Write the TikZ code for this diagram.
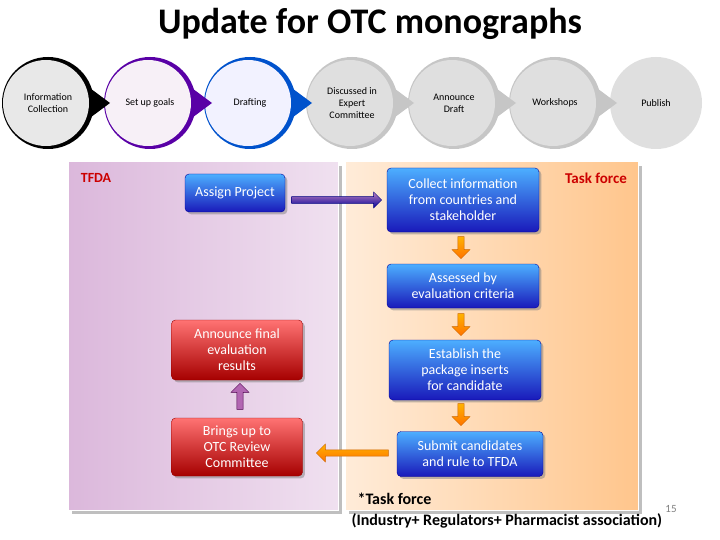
\documentclass[tikz,border=0pt]{standalone}
\usepackage{fontspec}
\setmainfont{Carlito}
\usetikzlibrary{shapes.arrows,shadows}
\begin{document}
\begin{tikzpicture}[x=1pt,y=-1pt,
 box/.style={rounded corners=4pt,text=white,align=center,font=\fontsize{14}{16}\selectfont,drop shadow},
 bbox/.style={box,top color=blue!45!cyan!70!white,bottom color=blue!70!black!90,draw=blue!60!black},
 rbox/.style={box,top color=red!55!white,bottom color=red!65!black,draw=red!60!black},
 stage/.style={font=\fontsize{10}{12}\selectfont,align=center},
 oarr/.style={single arrow,draw=orange!80!black,top color=orange!60!yellow,bottom color=orange!90!red,minimum height=#1,single arrow head extend=4pt,inner sep=2pt,minimum width=18pt}]
\useasboundingbox (0,0) rectangle (720,540);
\node[font=\bfseries\fontsize{36}{40}\selectfont] (title) at (370,24) {Update for OTC monographs};
% stages (right to left so each tip overlaps the next circle)
\fill[gray!25] (656,103) circle[radius=46];
\node[stage] (s7) at (656,103) {Publish};
\foreach \x/\ring/\inn/\t/\n in {555/gray!45/gray!25/{Workshops}/s6,454/gray!45/gray!25/{Announce\\Draft}/s5,352/gray!45/gray!25/{Discussed in\\Expert\\Committee}/s4,250/blue!60!cyan!80!black/blue!5/{Drafting}/s3,150/violet!70!blue/violet!6/{Set up goals}/s2,48/black/gray!18/{Information\\Collection}/s1}{
  \fill[\ring] (\x,57) -- (\x+62,103) -- (\x,149) -- cycle;
  \fill[\ring] (\x,103) circle[radius=46];
  \fill[\inn] (\x-2,103) circle[radius=43];
  \node[stage] (\n) at (\x,103) {\t};
}
% panels
\fill[gray!50] (72,166) rectangle (342,514);
\fill[left color=violet!28!white,right color=violet!12!white,draw=white,line width=1pt] (68,162) rectangle (338,510);
\fill[gray!50] (349,166) rectangle (642,514);
\fill[left color=orange!15!white,right color=orange!45!white,draw=white,line width=1pt] (345,162) rectangle (638,510);
\node[text=red!80!black,font=\bfseries\fontsize{14}{16}\selectfont] (tfda) at (96,178) {TFDA};
\node[text=red!80!black,font=\bfseries\fontsize{15}{17}\selectfont] (tf) at (596,178) {Task force};
% boxes
\node[bbox,minimum width=100pt,minimum height=38pt] (ap) at (235,193) {Assign Project};
\node[bbox,minimum width=152pt,minimum height=64pt] (ci) at (463,200) {Collect information\\from countries and\\stakeholder};
\node[bbox,minimum width=152pt,minimum height=44pt] (ae) at (463,286) {Assessed by\\evaluation criteria};
\node[bbox,minimum width=152pt,minimum height=60pt] (ep) at (465,370) {Establish the\\package inserts\\for candidate};
\node[bbox,minimum width=146pt,minimum height=45pt] (sc) at (470,454) {Submit candidates\\and rule to TFDA};
\node[rbox,minimum width=131pt,minimum height=60pt] (af) at (237,350) {Announce final\\evaluation\\results};
\node[rbox,minimum width=131pt,minimum height=58pt] (bu) at (237,447) {Brings up to\\OTC Review\\Committee};
% arrows
\node[single arrow,draw=blue!50!black,top color=violet!50!white,bottom color=blue!60!black,minimum height=90pt,minimum width=16pt,single arrow head extend=3pt,inner sep=2pt] (a1) at (335,200) {};
\node[oarr=22pt,shape border rotate=270] (a2) at (461,246) {};
\node[oarr=22pt,shape border rotate=270] (a3) at (461,323) {};
\node[oarr=22pt,shape border rotate=270] (a4) at (461,413) {};
\node[single arrow,draw=violet!60!black,fill=violet!60,minimum height=26pt,minimum width=18pt,single arrow head extend=4pt,inner sep=2pt,shape border rotate=90] (a5) at (240,398) {};
\node[oarr=72pt,shape border rotate=180] (a6) at (354,453) {};
% footnote
\node[font=\bfseries\fontsize{16}{18}\selectfont,anchor=west] (fn1) at (354,499) {*Task force};
\node[font=\bfseries\fontsize{16}{18}\selectfont,anchor=west] (fn2) at (348,521) {(Industry+ Regulators+ Pharmacist association)};
\node[font=\fontsize{11}{12}\selectfont,text=gray] (pg) at (671,509) {15};
\end{tikzpicture}
\end{document}
